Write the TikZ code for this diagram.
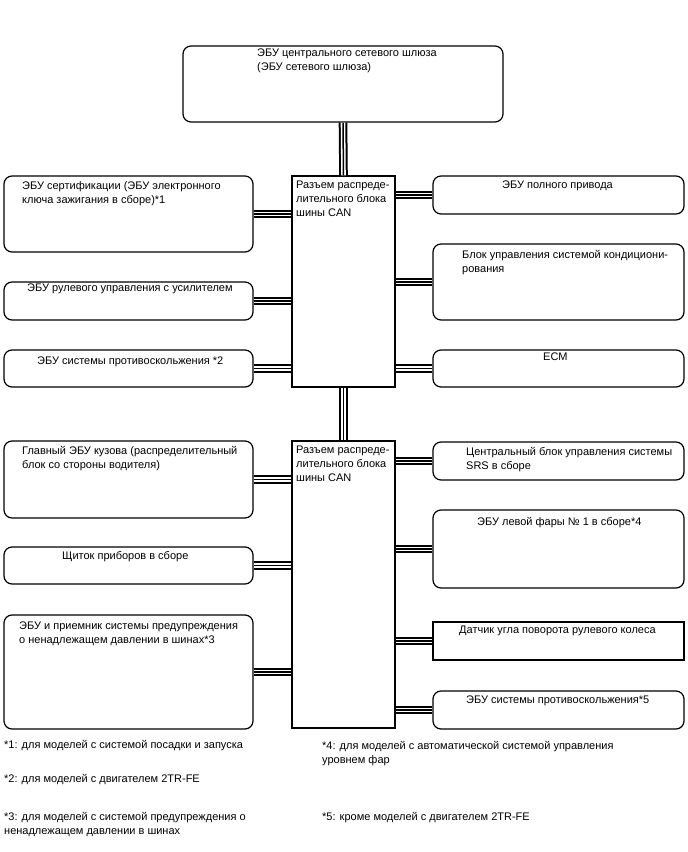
\documentclass[tikz,border=0pt]{standalone}
\usepackage{fontspec}
\setmainfont{Liberation Sans}
\usetikzlibrary{positioning}
\tikzset{
  ecu/.style={draw,line width=1.2pt,rounded corners=8pt,inner sep=0pt},
  blk/.style={draw,line width=1.2pt,inner sep=0pt},
  txt/.style={anchor=north west,inner sep=0pt,align=left,font=\fontsize{11}{14}\selectfont},
  bus/.style={line width=8.6pt,postaction={draw=white,line width=4.6pt},postaction={draw=black,line width=1.5pt}}
}
\begin{document}
\begin{tikzpicture}[x=1pt,y=-1pt]
\useasboundingbox (0,0) rectangle (688,852);
% gateway and the two CAN junction blocks
\node[ecu,minimum width=320pt,minimum height=76pt] (gw) at (343,84) {};
\node[blk,minimum width=103pt,minimum height=211pt] (can1) at (343.5,281.5) {};
\node[blk,minimum width=103pt,minimum height=287pt] (can2) at (343.5,584.5) {};
% left column
\node[ecu,minimum width=249pt,minimum height=76pt] (cert) at (128.5,214) {};
\node[ecu,minimum width=249pt,minimum height=38pt] (eps) at (128.5,301) {};
\node[ecu,minimum width=249pt,minimum height=37pt] (skid1) at (128.5,368.5) {};
\node[ecu,minimum width=249pt,minimum height=77pt] (body) at (128.5,479.5) {};
\node[ecu,minimum width=249pt,minimum height=37pt] (meter) at (128.5,565.5) {};
\node[ecu,minimum width=249pt,minimum height=114pt] (tpws) at (128.5,672) {};
% right column
\node[ecu,minimum width=251pt,minimum height=38pt] (awd) at (558.5,195) {};
\node[ecu,minimum width=251pt,minimum height=76pt] (ac) at (558.5,282) {};
\node[ecu,minimum width=251pt,minimum height=37pt] (ecm) at (558.5,368.5) {};
\node[ecu,minimum width=251pt,minimum height=38pt] (srs) at (558.5,461) {};
\node[ecu,minimum width=251pt,minimum height=78pt] (lamp) at (558.5,549) {};
\node[blk,minimum width=251pt,minimum height=38pt] (steer) at (558.5,641) {};
\node[ecu,minimum width=251pt,minimum height=38pt] (skid2) at (558.5,710) {};
% texts
\node[txt] (tgw) at (257,49) {ЭБУ центрального сетевого шлюза\\(ЭБУ сетевого шлюза)};
\node[txt] (tcan1) at (296,181) {Разъем распреде-\\лительного блока\\шины CAN};
\node[txt] (tcan2) at (296,446) {Разъем распреде-\\лительного блока\\шины CAN};
\node[txt] (tcert) at (22,181) {ЭБУ сертификации (ЭБУ электронного\\ключа зажигания в сборе)*1};
\node[txt] (teps) at (27,284) {ЭБУ рулевого управления с усилителем};
\node[txt] (tskid1) at (37,357) {ЭБУ системы противоскольжения *2};
\node[txt] (tbody) at (22,446) {Главный ЭБУ кузова (распределительный\\блок со стороны водителя)};
\node[txt] (tmeter) at (62,551) {Щиток приборов в сборе};
\node[txt] (ttpws) at (19,622) {ЭБУ и приемник системы предупреждения\\о ненадлежащем давлении в шинах*3};
\node[txt] (tawd) at (502,181) {ЭБУ полного привода};
\node[txt] (tac) at (462,250) {Блок управления системой кондициони-\\рования};
\node[txt] (tecm) at (543,353) {ECM};
\node[txt] (tsrs) at (466,447) {Центральный блок управления системы\\SRS в сборе};
\node[txt] (tlamp) at (477,517) {ЭБУ левой фары № 1 в сборе*4};
\node[txt] (tsteer) at (459,626) {Датчик угла поворота рулевого колеса};
\node[txt] (tskid2) at (466,696) {ЭБУ системы противоскольжения*5};
% notes
\node[txt] (n1) at (4,740) {*1: для моделей с системой посадки и запуска};
\node[txt] (n2) at (4,774) {*2: для моделей с двигателем 2TR-FE};
\node[txt] (n3) at (4,812) {*3: для моделей с системой предупреждения о\\ненадлежащем давлении в шинах};
\node[txt] (n4) at (322,741) {*4: для моделей с автоматической системой управления\\уровнем фар};
\node[txt] (n5) at (322,812) {*5: кроме моделей с двигателем 2TR-FE};
% bus lines
\draw[bus] (gw.south) -- (can1.north);
\draw[bus] (can1.south) -- (can2.north);
\foreach \e in {cert,eps,skid1}
  \draw[bus] (\e.east) -- (\e.east -| can1.west);
\foreach \e in {body,meter,tpws}
  \draw[bus] (\e.east) -- (\e.east -| can2.west);
\foreach \e in {awd,ac,ecm}
  \draw[bus] (\e.west) -- (\e.west -| can1.east);
\foreach \e in {srs,lamp,steer,skid2}
  \draw[bus] (\e.west) -- (\e.west -| can2.east);
\end{tikzpicture}
\end{document}
